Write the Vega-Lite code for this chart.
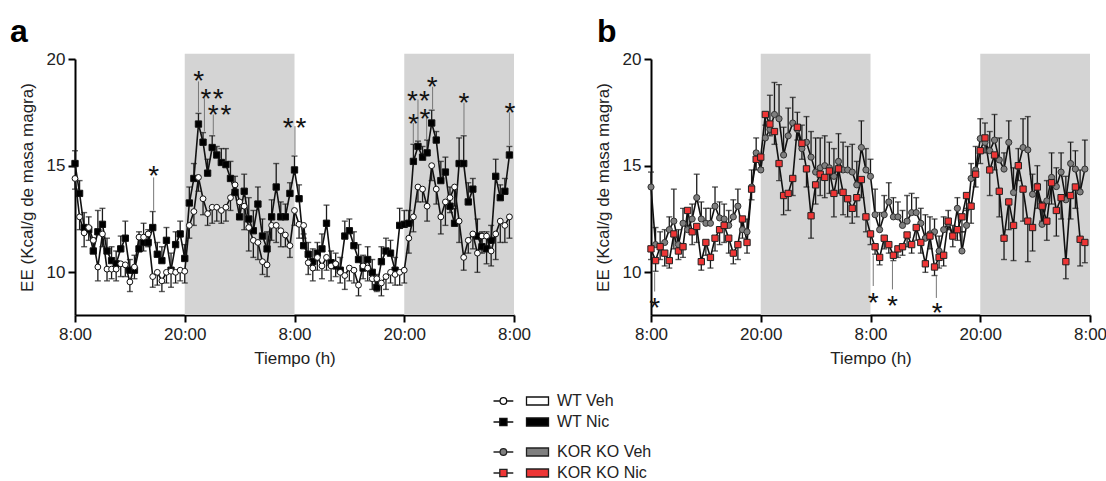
{
"$schema": "https://vega.github.io/schema/vega-lite/v6.json",
"padding": {"left": 10, "top": 16, "right": 0, "bottom": 0},
"background": "white",
"config": {
  "view": {"stroke": null},
  "font": "Liberation Sans",
  "axis": {"grid": false, "labelFlush": false, "domainColor": "#000", "domainWidth": 2, "tickColor": "#000", "tickWidth": 2, "tickSize": 7, "labelFontSize": 17, "titleFontSize": 17, "labelColor": "#222", "titleColor": "#222", "titleFontWeight": "normal", "labelFont": "Liberation Sans", "titleFont": "Liberation Sans"},
  "axisX": {"labelPadding": 4, "titlePadding": 8},
  "axisY": {"labelPadding": 3, "titlePadding": 10},
  "title": {"fontSize": 32, "fontWeight": "bold", "anchor": "start", "frame": "group", "offset": 1, "color": "#000", "font": "Liberation Sans"},
  "legend": {"orient": "none", "title": null, "symbolSize": 400, "labelFontSize": 16, "labelColor": "#222", "labelFont": "Liberation Sans", "rowPadding": 2, "labelOffset": 25}
},
"datasets": {
  "pa": [
{"s":"WT Nic","t":0,"v":15.1,"b":15.7},{"s":"WT Nic","t":0.5,"v":13.7,"b":14.3},{"s":"WT Nic","t":1,"v":12.1,"b":12.8},{"s":"WT Nic","t":1.5,"v":12.0,"b":12.6},{"s":"WT Nic","t":2,"v":11.0,"b":11.6},{"s":"WT Nic","t":2.5,"v":11.9,"b":12.9},{"s":"WT Nic","t":3,"v":12.25,"b":13.0},{"s":"WT Nic","t":3.5,"v":11.0,"b":11.6},{"s":"WT Nic","t":4,"v":10.55,"b":11.2},{"s":"WT Nic","t":4.5,"v":10.4,"b":11.0},{"s":"WT Nic","t":5,"v":11.1,"b":11.7},{"s":"WT Nic","t":5.5,"v":11.6,"b":12.4},{"s":"WT Nic","t":6,"v":10.1,"b":10.6},{"s":"WT Nic","t":6.5,"v":10.1,"b":10.8},{"s":"WT Nic","t":7,"v":11.1,"b":11.9},{"s":"WT Nic","t":7.5,"v":11.4,"b":12.3},{"s":"WT Nic","t":8,"v":11.4,"b":12.0},{"s":"WT Nic","t":8.5,"v":12.1,"b":12.85},{"s":"WT Nic","t":9,"v":10.85,"b":11.4},{"s":"WT Nic","t":9.5,"v":10.55,"b":11.2},{"s":"WT Nic","t":10,"v":11.5,"b":12.1},{"s":"WT Nic","t":10.5,"v":10.1,"b":10.9},{"s":"WT Nic","t":11,"v":11.3,"b":11.9},{"s":"WT Nic","t":11.5,"v":11.8,"b":12.4},{"s":"WT Nic","t":12,"v":10.65,"b":11.3},{"s":"WT Nic","t":12.5,"v":13.25,"b":14.0},{"s":"WT Nic","t":13,"v":14.4,"b":15.1},{"s":"WT Nic","t":13.5,"v":16.95,"b":17.45},{"s":"WT Nic","t":14,"v":16.1,"b":16.55},{"s":"WT Nic","t":14.5,"v":14.65,"b":15.3},{"s":"WT Nic","t":15,"v":15.85,"b":16.4},{"s":"WT Nic","t":15.5,"v":15.5,"b":15.9},{"s":"WT Nic","t":16,"v":15.15,"b":15.8},{"s":"WT Nic","t":16.5,"v":15.05,"b":15.8},{"s":"WT Nic","t":17,"v":14.4,"b":15.2},{"s":"WT Nic","t":17.5,"v":13.75,"b":14.5},{"s":"WT Nic","t":18,"v":12.6,"b":13.3},{"s":"WT Nic","t":18.5,"v":13.8,"b":14.6},{"s":"WT Nic","t":19,"v":12.5,"b":13.5},{"s":"WT Nic","t":19.5,"v":11.95,"b":12.9},{"s":"WT Nic","t":20,"v":13.2,"b":14.0},{"s":"WT Nic","t":20.5,"v":11.7,"b":12.5},{"s":"WT Nic","t":21,"v":11.1,"b":11.9},{"s":"WT Nic","t":21.5,"v":12.6,"b":13.4},{"s":"WT Nic","t":22,"v":14.0,"b":15.1},{"s":"WT Nic","t":22.5,"v":12.6,"b":13.3},{"s":"WT Nic","t":23,"v":12.6,"b":13.2},{"s":"WT Nic","t":23.5,"v":13.7,"b":14.2},{"s":"WT Nic","t":24,"v":14.8,"b":15.45},{"s":"WT Nic","t":24.5,"v":13.45,"b":14.1},{"s":"WT Nic","t":25,"v":11.25,"b":11.8},{"s":"WT Nic","t":25.5,"v":10.85,"b":11.4},{"s":"WT Nic","t":26,"v":10.5,"b":11.1},{"s":"WT Nic","t":26.5,"v":10.9,"b":11.4},{"s":"WT Nic","t":27,"v":11.1,"b":11.8},{"s":"WT Nic","t":27.5,"v":12.3,"b":13.15},{"s":"WT Nic","t":28,"v":10.45,"b":11.0},{"s":"WT Nic","t":28.5,"v":10.3,"b":10.9},{"s":"WT Nic","t":29,"v":10.1,"b":10.7},{"s":"WT Nic","t":29.5,"v":11.7,"b":12.4},{"s":"WT Nic","t":30,"v":11.95,"b":12.5},{"s":"WT Nic","t":30.5,"v":11.25,"b":11.9},{"s":"WT Nic","t":31,"v":10.6,"b":11.3},{"s":"WT Nic","t":31.5,"v":10.2,"b":10.8},{"s":"WT Nic","t":32,"v":10.6,"b":11.2},{"s":"WT Nic","t":32.5,"v":10.0,"b":10.6},{"s":"WT Nic","t":33,"v":9.3,"b":9.9},{"s":"WT Nic","t":33.5,"v":10.5,"b":11.2},{"s":"WT Nic","t":34,"v":11.0,"b":11.6},{"s":"WT Nic","t":34.5,"v":10.9,"b":11.5},{"s":"WT Nic","t":35,"v":10.1,"b":10.7},{"s":"WT Nic","t":35.5,"v":12.2,"b":13.0},{"s":"WT Nic","t":36,"v":12.25,"b":12.9},{"s":"WT Nic","t":36.5,"v":12.3,"b":12.9},{"s":"WT Nic","t":37,"v":15.2,"b":16.0},{"s":"WT Nic","t":37.5,"v":15.9,"b":16.15},{"s":"WT Nic","t":38,"v":15.4,"b":15.9},{"s":"WT Nic","t":38.5,"v":15.6,"b":16.2},{"s":"WT Nic","t":39,"v":17.0,"b":17.6},{"s":"WT Nic","t":39.5,"v":16.2,"b":16.6},{"s":"WT Nic","t":40,"v":14.3,"b":15.2},{"s":"WT Nic","t":40.5,"v":14.7,"b":15.4},{"s":"WT Nic","t":41,"v":13.1,"b":14.0},{"s":"WT Nic","t":41.5,"v":12.3,"b":13.0},{"s":"WT Nic","t":42,"v":15.1,"b":16.3},{"s":"WT Nic","t":42.5,"v":15.1,"b":16.4},{"s":"WT Nic","t":43,"v":13.3,"b":14.2},{"s":"WT Nic","t":43.5,"v":13.9,"b":14.4},{"s":"WT Nic","t":44,"v":11.7,"b":12.5},{"s":"WT Nic","t":44.5,"v":11.2,"b":11.9},{"s":"WT Nic","t":45,"v":11.1,"b":11.9},{"s":"WT Nic","t":45.5,"v":11.5,"b":12.2},{"s":"WT Nic","t":46,"v":14.5,"b":15.3},{"s":"WT Nic","t":46.5,"v":13.5,"b":14.1},{"s":"WT Nic","t":47,"v":13.8,"b":14.4},{"s":"WT Nic","t":47.5,"v":15.5,"b":15.9},
{"s":"WT Veh","t":0,"v":14.4,"b":13.9},{"s":"WT Veh","t":0.5,"v":12.6,"b":12.0},{"s":"WT Veh","t":1,"v":11.85,"b":11.2},{"s":"WT Veh","t":1.5,"v":12.1,"b":11.5},{"s":"WT Veh","t":2,"v":11.5,"b":10.9},{"s":"WT Veh","t":2.5,"v":10.25,"b":9.6},{"s":"WT Veh","t":3,"v":11.8,"b":11.2},{"s":"WT Veh","t":3.5,"v":10.15,"b":9.6},{"s":"WT Veh","t":4,"v":10.15,"b":9.7},{"s":"WT Veh","t":4.5,"v":10.15,"b":9.6},{"s":"WT Veh","t":5,"v":10.4,"b":9.8},{"s":"WT Veh","t":5.5,"v":10.35,"b":9.8},{"s":"WT Veh","t":6,"v":9.55,"b":9.1},{"s":"WT Veh","t":6.5,"v":10.25,"b":9.7},{"s":"WT Veh","t":7,"v":11.65,"b":11.1},{"s":"WT Veh","t":7.5,"v":11.65,"b":11.0},{"s":"WT Veh","t":8,"v":11.8,"b":11.2},{"s":"WT Veh","t":8.5,"v":9.8,"b":9.3},{"s":"WT Veh","t":9,"v":10.0,"b":9.4},{"s":"WT Veh","t":9.5,"v":9.6,"b":9.1},{"s":"WT Veh","t":10,"v":10.0,"b":9.5},{"s":"WT Veh","t":10.5,"v":10.05,"b":9.3},{"s":"WT Veh","t":11,"v":10.0,"b":9.5},{"s":"WT Veh","t":11.5,"v":10.1,"b":9.6},{"s":"WT Veh","t":12,"v":10.05,"b":9.5},{"s":"WT Veh","t":12.5,"v":12.2,"b":11.6},{"s":"WT Veh","t":13,"v":12.85,"b":12.2},{"s":"WT Veh","t":13.5,"v":14.45,"b":13.8},{"s":"WT Veh","t":14,"v":13.45,"b":12.7},{"s":"WT Veh","t":14.5,"v":12.75,"b":12.2},{"s":"WT Veh","t":15,"v":13.05,"b":12.3},{"s":"WT Veh","t":15.5,"v":13.05,"b":12.4},{"s":"WT Veh","t":16,"v":12.9,"b":12.3},{"s":"WT Veh","t":16.5,"v":13.05,"b":12.4},{"s":"WT Veh","t":17,"v":13.5,"b":12.9},{"s":"WT Veh","t":17.5,"v":14.1,"b":13.6},{"s":"WT Veh","t":18,"v":13.3,"b":12.6},{"s":"WT Veh","t":18.5,"v":13.1,"b":12.0},{"s":"WT Veh","t":19,"v":12.1,"b":11.0},{"s":"WT Veh","t":19.5,"v":11.5,"b":10.7},{"s":"WT Veh","t":20,"v":11.4,"b":10.6},{"s":"WT Veh","t":20.5,"v":10.5,"b":9.9},{"s":"WT Veh","t":21,"v":10.35,"b":9.8},{"s":"WT Veh","t":21.5,"v":12.2,"b":11.5},{"s":"WT Veh","t":22,"v":12.2,"b":11.4},{"s":"WT Veh","t":22.5,"v":11.95,"b":11.2},{"s":"WT Veh","t":23,"v":11.75,"b":11.2},{"s":"WT Veh","t":23.5,"v":11.25,"b":10.7},{"s":"WT Veh","t":24,"v":12.9,"b":12.2},{"s":"WT Veh","t":24.5,"v":12.25,"b":11.6},{"s":"WT Veh","t":25,"v":12.2,"b":11.6},{"s":"WT Veh","t":25.5,"v":10.45,"b":9.9},{"s":"WT Veh","t":26,"v":10.2,"b":9.6},{"s":"WT Veh","t":26.5,"v":10.7,"b":10.1},{"s":"WT Veh","t":27,"v":10.3,"b":9.7},{"s":"WT Veh","t":27.5,"v":10.7,"b":10.1},{"s":"WT Veh","t":28,"v":10.3,"b":9.6},{"s":"WT Veh","t":28.5,"v":10.4,"b":9.8},{"s":"WT Veh","t":29,"v":10.0,"b":9.5},{"s":"WT Veh","t":29.5,"v":9.85,"b":9.2},{"s":"WT Veh","t":30,"v":10.2,"b":9.6},{"s":"WT Veh","t":30.5,"v":10.1,"b":9.5},{"s":"WT Veh","t":31,"v":9.4,"b":8.9},{"s":"WT Veh","t":31.5,"v":10.3,"b":9.7},{"s":"WT Veh","t":32,"v":10.2,"b":9.6},{"s":"WT Veh","t":32.5,"v":9.7,"b":9.2},{"s":"WT Veh","t":33,"v":9.7,"b":9.1},{"s":"WT Veh","t":33.5,"v":9.5,"b":8.9},{"s":"WT Veh","t":34,"v":9.8,"b":9.2},{"s":"WT Veh","t":34.5,"v":10.0,"b":9.5},{"s":"WT Veh","t":35,"v":9.9,"b":9.4},{"s":"WT Veh","t":35.5,"v":10.0,"b":9.4},{"s":"WT Veh","t":36,"v":10.1,"b":9.5},{"s":"WT Veh","t":36.5,"v":11.6,"b":10.9},{"s":"WT Veh","t":37,"v":12.6,"b":11.9},{"s":"WT Veh","t":37.5,"v":14.0,"b":13.3},{"s":"WT Veh","t":38,"v":13.9,"b":13.3},{"s":"WT Veh","t":38.5,"v":13.1,"b":12.4},{"s":"WT Veh","t":39,"v":15.0,"b":14.3},{"s":"WT Veh","t":39.5,"v":13.9,"b":13.2},{"s":"WT Veh","t":40,"v":12.6,"b":11.8},{"s":"WT Veh","t":40.5,"v":13.3,"b":12.2},{"s":"WT Veh","t":41,"v":13.5,"b":12.8},{"s":"WT Veh","t":41.5,"v":14.0,"b":13.1},{"s":"WT Veh","t":42,"v":12.4,"b":11.4},{"s":"WT Veh","t":42.5,"v":10.7,"b":10.1},{"s":"WT Veh","t":43,"v":11.5,"b":10.9},{"s":"WT Veh","t":43.5,"v":11.8,"b":11.1},{"s":"WT Veh","t":44,"v":10.9,"b":10.0},{"s":"WT Veh","t":44.5,"v":11.7,"b":10.9},{"s":"WT Veh","t":45,"v":11.7,"b":10.4},{"s":"WT Veh","t":45.5,"v":11.0,"b":10.3},{"s":"WT Veh","t":46,"v":11.8,"b":10.6},{"s":"WT Veh","t":46.5,"v":12.4,"b":11.4},{"s":"WT Veh","t":47,"v":12.2,"b":11.4},{"s":"WT Veh","t":47.5,"v":12.6,"b":11.6}
  ],
  "pb": [
{"s":"KOR KO Nic","t":0,"v":11.1,"b":10.6},{"s":"KOR KO Nic","t":0.5,"v":10.55,"b":10.05},{"s":"KOR KO Nic","t":1,"v":11.2,"b":10.6},{"s":"KOR KO Nic","t":1.5,"v":10.9,"b":10.3},{"s":"KOR KO Nic","t":2,"v":10.55,"b":10.2},{"s":"KOR KO Nic","t":2.5,"v":11.8,"b":11.1},{"s":"KOR KO Nic","t":3,"v":11.0,"b":10.6},{"s":"KOR KO Nic","t":3.5,"v":11.2,"b":10.7},{"s":"KOR KO Nic","t":4,"v":12.9,"b":12.2},{"s":"KOR KO Nic","t":4.5,"v":11.9,"b":11.3},{"s":"KOR KO Nic","t":5,"v":12.15,"b":11.4},{"s":"KOR KO Nic","t":5.5,"v":10.5,"b":10.1},{"s":"KOR KO Nic","t":6,"v":11.4,"b":10.8},{"s":"KOR KO Nic","t":6.5,"v":10.7,"b":10.2},{"s":"KOR KO Nic","t":7,"v":11.6,"b":11.0},{"s":"KOR KO Nic","t":7.5,"v":12.0,"b":11.3},{"s":"KOR KO Nic","t":8,"v":12.2,"b":11.4},{"s":"KOR KO Nic","t":8.5,"v":11.6,"b":10.9},{"s":"KOR KO Nic","t":9,"v":10.9,"b":10.4},{"s":"KOR KO Nic","t":9.5,"v":11.3,"b":10.6},{"s":"KOR KO Nic","t":10,"v":12.5,"b":11.6},{"s":"KOR KO Nic","t":10.5,"v":11.4,"b":10.9},{"s":"KOR KO Nic","t":11,"v":13.9,"b":13.4},{"s":"KOR KO Nic","t":11.5,"v":15.3,"b":14.8},{"s":"KOR KO Nic","t":12,"v":15.4,"b":14.9},{"s":"KOR KO Nic","t":12.5,"v":17.4,"b":16.9},{"s":"KOR KO Nic","t":13,"v":16.95,"b":16.4},{"s":"KOR KO Nic","t":13.5,"v":16.6,"b":16.0},{"s":"KOR KO Nic","t":14,"v":15.1,"b":14.3},{"s":"KOR KO Nic","t":14.5,"v":13.6,"b":12.7},{"s":"KOR KO Nic","t":15,"v":13.7,"b":12.9},{"s":"KOR KO Nic","t":15.5,"v":14.4,"b":13.6},{"s":"KOR KO Nic","t":16,"v":16.8,"b":16.2},{"s":"KOR KO Nic","t":16.5,"v":16.05,"b":15.3},{"s":"KOR KO Nic","t":17,"v":14.85,"b":14.0},{"s":"KOR KO Nic","t":17.5,"v":12.65,"b":11.6},{"s":"KOR KO Nic","t":18,"v":14.1,"b":13.2},{"s":"KOR KO Nic","t":18.5,"v":14.6,"b":13.6},{"s":"KOR KO Nic","t":19,"v":14.45,"b":13.5},{"s":"KOR KO Nic","t":19.5,"v":14.75,"b":13.7},{"s":"KOR KO Nic","t":20,"v":13.7,"b":12.6},{"s":"KOR KO Nic","t":20.5,"v":14.85,"b":13.7},{"s":"KOR KO Nic","t":21,"v":13.75,"b":12.7},{"s":"KOR KO Nic","t":21.5,"v":13.45,"b":12.6},{"s":"KOR KO Nic","t":22,"v":13.0,"b":12.3},{"s":"KOR KO Nic","t":22.5,"v":13.5,"b":12.6},{"s":"KOR KO Nic","t":23,"v":14.35,"b":13.5},{"s":"KOR KO Nic","t":23.5,"v":12.6,"b":11.9},{"s":"KOR KO Nic","t":24,"v":11.8,"b":11.3},{"s":"KOR KO Nic","t":24.5,"v":11.2,"b":10.85},{"s":"KOR KO Nic","t":25,"v":10.7,"b":10.35},{"s":"KOR KO Nic","t":25.5,"v":11.6,"b":11.1},{"s":"KOR KO Nic","t":26,"v":11.3,"b":10.9},{"s":"KOR KO Nic","t":26.5,"v":10.8,"b":10.55},{"s":"KOR KO Nic","t":27,"v":11.1,"b":10.7},{"s":"KOR KO Nic","t":27.5,"v":11.2,"b":10.8},{"s":"KOR KO Nic","t":28,"v":11.75,"b":11.2},{"s":"KOR KO Nic","t":28.5,"v":11.3,"b":10.9},{"s":"KOR KO Nic","t":29,"v":12.1,"b":11.5},{"s":"KOR KO Nic","t":29.5,"v":11.4,"b":10.9},{"s":"KOR KO Nic","t":30,"v":10.4,"b":10.0},{"s":"KOR KO Nic","t":30.5,"v":11.7,"b":11.1},{"s":"KOR KO Nic","t":31,"v":10.25,"b":9.85},{"s":"KOR KO Nic","t":31.5,"v":10.7,"b":10.2},{"s":"KOR KO Nic","t":32,"v":10.8,"b":10.3},{"s":"KOR KO Nic","t":32.5,"v":12.4,"b":12.0},{"s":"KOR KO Nic","t":33,"v":11.7,"b":11.2},{"s":"KOR KO Nic","t":33.5,"v":12.0,"b":11.5},{"s":"KOR KO Nic","t":34,"v":12.6,"b":11.9},{"s":"KOR KO Nic","t":34.5,"v":13.6,"b":12.9},{"s":"KOR KO Nic","t":35,"v":13.1,"b":12.3},{"s":"KOR KO Nic","t":35.5,"v":14.6,"b":14.0},{"s":"KOR KO Nic","t":36,"v":15.7,"b":15.1},{"s":"KOR KO Nic","t":36.52,"v":16.3,"b":15.6},{"s":"KOR KO Nic","t":37.04,"v":14.8,"b":13.6},{"s":"KOR KO Nic","t":37.56,"v":15.5,"b":14.8},{"s":"KOR KO Nic","t":38.08,"v":13.8,"b":12.6},{"s":"KOR KO Nic","t":38.6,"v":11.6,"b":10.6},{"s":"KOR KO Nic","t":39.12,"v":13.3,"b":12.0},{"s":"KOR KO Nic","t":39.64,"v":12.2,"b":10.55},{"s":"KOR KO Nic","t":40.16,"v":15.0,"b":14.3},{"s":"KOR KO Nic","t":40.68,"v":13.9,"b":12.4},{"s":"KOR KO Nic","t":41.2,"v":12.4,"b":10.5},{"s":"KOR KO Nic","t":41.72,"v":12.1,"b":11.0},{"s":"KOR KO Nic","t":42.24,"v":14.0,"b":13.0},{"s":"KOR KO Nic","t":42.76,"v":13.1,"b":12.4},{"s":"KOR KO Nic","t":43.28,"v":12.4,"b":11.5},{"s":"KOR KO Nic","t":43.8,"v":14.2,"b":13.2},{"s":"KOR KO Nic","t":44.32,"v":12.9,"b":11.7},{"s":"KOR KO Nic","t":44.84,"v":13.5,"b":12.5},{"s":"KOR KO Nic","t":45.36,"v":10.5,"b":9.7},{"s":"KOR KO Nic","t":45.88,"v":13.6,"b":12.5},{"s":"KOR KO Nic","t":46.4,"v":14.0,"b":13.0},{"s":"KOR KO Nic","t":46.92,"v":11.55,"b":10.3},{"s":"KOR KO Nic","t":47.44,"v":11.4,"b":10.45},
{"s":"KOR KO Veh","t":0,"v":14.0,"b":14.7},{"s":"KOR KO Veh","t":0.5,"v":11.3,"b":12.1},{"s":"KOR KO Veh","t":1,"v":11.2,"b":11.9},{"s":"KOR KO Veh","t":1.5,"v":11.4,"b":12.0},{"s":"KOR KO Veh","t":2,"v":12.0,"b":12.6},{"s":"KOR KO Veh","t":2.5,"v":12.4,"b":13.9},{"s":"KOR KO Veh","t":3,"v":11.3,"b":12.0},{"s":"KOR KO Veh","t":3.5,"v":12.3,"b":13.0},{"s":"KOR KO Veh","t":4,"v":12.0,"b":12.8},{"s":"KOR KO Veh","t":4.5,"v":12.5,"b":13.2},{"s":"KOR KO Veh","t":5,"v":13.5,"b":14.6},{"s":"KOR KO Veh","t":5.5,"v":12.5,"b":13.3},{"s":"KOR KO Veh","t":6,"v":12.3,"b":13.0},{"s":"KOR KO Veh","t":6.5,"v":12.3,"b":13.0},{"s":"KOR KO Veh","t":7,"v":13.1,"b":14.0},{"s":"KOR KO Veh","t":7.5,"v":12.55,"b":13.3},{"s":"KOR KO Veh","t":8,"v":12.5,"b":13.2},{"s":"KOR KO Veh","t":8.5,"v":12.2,"b":12.9},{"s":"KOR KO Veh","t":9,"v":12.6,"b":13.4},{"s":"KOR KO Veh","t":9.5,"v":13.1,"b":13.9},{"s":"KOR KO Veh","t":10,"v":12.0,"b":12.6},{"s":"KOR KO Veh","t":10.5,"v":11.9,"b":12.5},{"s":"KOR KO Veh","t":11,"v":14.0,"b":14.8},{"s":"KOR KO Veh","t":11.5,"v":15.6,"b":16.3},{"s":"KOR KO Veh","t":12,"v":14.8,"b":15.5},{"s":"KOR KO Veh","t":12.5,"v":16.3,"b":17.4},{"s":"KOR KO Veh","t":13,"v":16.7,"b":18.3},{"s":"KOR KO Veh","t":13.5,"v":17.4,"b":18.9},{"s":"KOR KO Veh","t":14,"v":17.2,"b":18.8},{"s":"KOR KO Veh","t":14.5,"v":15.5,"b":16.8},{"s":"KOR KO Veh","t":15,"v":16.4,"b":17.7},{"s":"KOR KO Veh","t":15.5,"v":17.0,"b":18.2},{"s":"KOR KO Veh","t":16,"v":16.7,"b":17.5},{"s":"KOR KO Veh","t":16.5,"v":15.8,"b":16.9},{"s":"KOR KO Veh","t":17,"v":16.1,"b":17.3},{"s":"KOR KO Veh","t":17.5,"v":15.4,"b":16.6},{"s":"KOR KO Veh","t":18,"v":14.7,"b":16.3},{"s":"KOR KO Veh","t":18.5,"v":14.9,"b":16.3},{"s":"KOR KO Veh","t":19,"v":15.0,"b":16.4},{"s":"KOR KO Veh","t":19.5,"v":14.9,"b":16.1},{"s":"KOR KO Veh","t":20,"v":14.5,"b":15.8},{"s":"KOR KO Veh","t":20.5,"v":15.2,"b":16.5},{"s":"KOR KO Veh","t":21,"v":14.8,"b":16.1},{"s":"KOR KO Veh","t":21.5,"v":14.8,"b":15.9},{"s":"KOR KO Veh","t":22,"v":14.7,"b":16.0},{"s":"KOR KO Veh","t":22.5,"v":14.1,"b":15.2},{"s":"KOR KO Veh","t":23,"v":15.85,"b":17.1},{"s":"KOR KO Veh","t":23.5,"v":14.8,"b":15.8},{"s":"KOR KO Veh","t":24,"v":14.5,"b":15.3},{"s":"KOR KO Veh","t":24.5,"v":12.7,"b":13.9},{"s":"KOR KO Veh","t":25,"v":12.0,"b":12.8},{"s":"KOR KO Veh","t":25.5,"v":12.7,"b":13.6},{"s":"KOR KO Veh","t":26,"v":13.3,"b":14.2},{"s":"KOR KO Veh","t":26.5,"v":12.6,"b":13.5},{"s":"KOR KO Veh","t":27,"v":12.6,"b":13.3},{"s":"KOR KO Veh","t":27.5,"v":12.2,"b":12.9},{"s":"KOR KO Veh","t":28,"v":12.4,"b":13.6},{"s":"KOR KO Veh","t":28.5,"v":12.8,"b":13.7},{"s":"KOR KO Veh","t":29,"v":12.8,"b":13.5},{"s":"KOR KO Veh","t":29.5,"v":12.3,"b":13.0},{"s":"KOR KO Veh","t":30,"v":11.6,"b":12.7},{"s":"KOR KO Veh","t":30.5,"v":11.8,"b":12.6},{"s":"KOR KO Veh","t":31,"v":11.9,"b":12.5},{"s":"KOR KO Veh","t":31.5,"v":11.0,"b":11.7},{"s":"KOR KO Veh","t":32,"v":12.0,"b":12.6},{"s":"KOR KO Veh","t":32.5,"v":12.3,"b":12.9},{"s":"KOR KO Veh","t":33,"v":11.7,"b":12.2},{"s":"KOR KO Veh","t":33.5,"v":13.0,"b":13.5},{"s":"KOR KO Veh","t":34,"v":11.0,"b":11.9},{"s":"KOR KO Veh","t":34.5,"v":12.2,"b":13.0},{"s":"KOR KO Veh","t":35,"v":14.4,"b":15.1},{"s":"KOR KO Veh","t":35.5,"v":14.8,"b":15.9},{"s":"KOR KO Veh","t":36,"v":16.27,"b":17.2},{"s":"KOR KO Veh","t":36.52,"v":16.09,"b":17.0},{"s":"KOR KO Veh","t":37.04,"v":15.7,"b":16.6},{"s":"KOR KO Veh","t":37.56,"v":16.2,"b":17.4},{"s":"KOR KO Veh","t":38.08,"v":15.27,"b":16.3},{"s":"KOR KO Veh","t":38.6,"v":14.84,"b":15.6},{"s":"KOR KO Veh","t":39.12,"v":16.09,"b":17.1},{"s":"KOR KO Veh","t":39.64,"v":13.74,"b":14.9},{"s":"KOR KO Veh","t":40.16,"v":14.96,"b":15.8},{"s":"KOR KO Veh","t":40.68,"v":15.85,"b":17.2},{"s":"KOR KO Veh","t":41.2,"v":15.74,"b":17.3},{"s":"KOR KO Veh","t":41.72,"v":13.66,"b":14.6},{"s":"KOR KO Veh","t":42.24,"v":14.05,"b":15.0},{"s":"KOR KO Veh","t":42.76,"v":12.25,"b":13.3},{"s":"KOR KO Veh","t":43.28,"v":13.35,"b":14.3},{"s":"KOR KO Veh","t":43.8,"v":14.45,"b":15.6},{"s":"KOR KO Veh","t":44.32,"v":14.02,"b":14.9},{"s":"KOR KO Veh","t":44.84,"v":14.7,"b":15.6},{"s":"KOR KO Veh","t":45.36,"v":13.4,"b":14.5},{"s":"KOR KO Veh","t":45.88,"v":15.1,"b":16.1},{"s":"KOR KO Veh","t":46.4,"v":14.84,"b":15.7},{"s":"KOR KO Veh","t":46.92,"v":13.77,"b":14.8},{"s":"KOR KO Veh","t":47.44,"v":14.84,"b":16.2}
  ],
  "night": [{"t":12,"t2":24,"lo":8,"hi":20.25},{"t":36,"t2":48,"lo":8,"hi":20.25}],
  "starsA": [{"t":8.6,"y":14.84},{"t":13.52,"y":19.3},{"t":14.32,"y":18.44},{"t":15.67,"y":18.44},{"t":15.12,"y":17.7},{"t":16.5,"y":17.7},{"t":23.3,"y":17.1},{"t":24.7,"y":17.1},{"t":36.9,"y":18.36},{"t":38.2,"y":18.36},{"t":37.0,"y":17.26},{"t":38.27,"y":17.5},{"t":39.07,"y":19.03},{"t":42.53,"y":18.25},{"t":47.55,"y":17.78}],
  "linesA": [{"t":8.6,"y1":12.9,"y2":14.45},{"t":13.5,"y1":17.5,"y2":18.95},{"t":14.15,"y1":16.6,"y2":18.15},{"t":15.12,"y1":16.45,"y2":17.4},{"t":24.05,"y1":15.5,"y2":16.85},{"t":37.5,"y1":16.15,"y2":18.1},{"t":36.99,"y1":16.05,"y2":17.0},{"t":38.45,"y1":16.25,"y2":17.25},{"t":39.1,"y1":17.65,"y2":18.7},{"t":42.53,"y1":16.45,"y2":17.95},{"t":47.5,"y1":15.95,"y2":17.5}],
  "starsB": [{"t":0.4,"y":8.65},{"t":24.3,"y":8.9},{"t":26.4,"y":8.73},{"t":31.3,"y":8.42}],
  "linesB": [{"t":0.4,"y1":9.1,"y2":10.0},{"t":24.3,"y1":9.36,"y2":10.8},{"t":26.4,"y1":9.2,"y2":10.55},{"t":31.2,"y1":8.8,"y2":9.83}]
},
"hconcat": [
{
  "title": {"text": "a", "dx": -65},
  "width": 439, "height": 256,
  "layer": [
    {"data": {"name": "night"}, "mark": {"type": "rect", "color": "#d4d4d4"},
     "encoding": {
       "x": {"field": "t", "type": "quantitative", "scale": {"domain": [0, 48], "nice": false, "zero": false}, "axis": {"values": [0, 12, 24, 36, 48], "labelExpr": "datum.value % 24 == 0 ? '8:00' : '20:00'", "title": "Tiempo (h)"}},
       "x2": {"field": "t2"},
       "y": {"field": "lo", "type": "quantitative", "scale": {"domain": [8, 20], "nice": false, "zero": false}, "axis": {"values": [10, 15, 20], "title": "EE (Kcal/g de masa magra)"}},
       "y2": {"field": "hi"}}},
    {"data": {"name": "pa"}, "mark": {"type": "rule", "color": "#1a1a1a", "strokeWidth": 1.3},
     "encoding": {"x": {"field": "t", "type": "quantitative"}, "y": {"field": "v", "type": "quantitative"}, "y2": {"field": "b"}}},
    {"data": {"name": "pa"}, "mark": {"type": "tick", "orient": "horizontal", "color": "#1a1a1a", "size": 6, "thickness": 1.4},
     "encoding": {"x": {"field": "t", "type": "quantitative"}, "y": {"field": "b", "type": "quantitative"}}},
    {"data": {"name": "pa"}, "mark": {"type": "line", "color": "#111", "strokeWidth": 1.6},
     "encoding": {"x": {"field": "t", "type": "quantitative"}, "y": {"field": "v", "type": "quantitative"}, "detail": {"field": "s"}}},
    {"data": {"name": "pa"}, "transform": [{"filter": "datum.s == 'WT Nic'"}],
     "mark": {"type": "point", "shape": "square", "filled": true, "size": 40, "stroke": "#111", "strokeWidth": 1, "opacity": 1},
     "encoding": {"x": {"field": "t", "type": "quantitative"}, "y": {"field": "v", "type": "quantitative"},
       "fill": {"field": "s", "type": "nominal", "scale": {"domain": ["WT Veh", "WT Nic"], "range": ["#ffffff", "#000000"]},
         "legend": {"legendX": 435, "legendY": 331, "symbolStrokeColor": "#1a1a1a", "symbolStrokeWidth": 1.3, "symbolOpacity": 1}}}},
    {"data": {"name": "pa"}, "transform": [{"filter": "datum.s == 'WT Veh'"}],
     "mark": {"type": "point", "shape": "circle", "filled": true, "size": 34, "stroke": "#111", "strokeWidth": 1, "opacity": 1},
     "encoding": {"x": {"field": "t", "type": "quantitative"}, "y": {"field": "v", "type": "quantitative"},
       "fill": {"field": "s", "type": "nominal"}}},
    {"data": {"name": "pa"}, "transform": [{"filter": "false"}],
     "mark": {"type": "point", "filled": true},
     "encoding": {
       "fill": {"field": "s", "type": "nominal"},
       "shape": {"field": "s", "type": "nominal", "scale": {"domain": ["WT Veh", "WT Nic"], "range": ["M-2.75,0H-2.09M-1.43,0H-0.77M-1.43,0A0.33,0.33,0,1,1,-2.09,0A0.33,0.33,0,1,1,-1.43,0ZM0.55,-0.4H2.75V0.4H0.55Z", "M-2.75,0H-2.12M-1.4,0H-0.77M-2.12,-0.36H-1.4V0.36H-2.12ZM0.55,-0.4H2.75V0.4H0.55Z"]}}}},
    {"data": {"name": "linesA"}, "mark": {"type": "rule", "color": "#777", "strokeWidth": 1},
     "encoding": {"x": {"field": "t", "type": "quantitative"}, "y": {"field": "y1", "type": "quantitative"}, "y2": {"field": "y2"}}},
    {"data": {"name": "starsA"}, "mark": {"type": "text", "text": "*", "fontSize": 28, "baseline": "alphabetic", "dy": 16, "font": "Liberation Sans", "color": "#111"},
     "encoding": {"x": {"field": "t", "type": "quantitative"}, "y": {"field": "y", "type": "quantitative"}}}
  ]
},
{
  "title": {"text": "b", "dx": -54},
  "width": 439, "height": 256,
  "layer": [
    {"data": {"name": "night"}, "mark": {"type": "rect", "color": "#d4d4d4"},
     "encoding": {
       "x": {"field": "t", "type": "quantitative", "scale": {"domain": [0, 48], "nice": false, "zero": false}, "axis": {"values": [0, 12, 24, 36, 48], "labelExpr": "datum.value % 24 == 0 ? '8:00' : '20:00'", "title": "Tiempo (h)"}},
       "x2": {"field": "t2"},
       "y": {"field": "lo", "type": "quantitative", "scale": {"domain": [8, 20], "nice": false, "zero": false}, "axis": {"values": [10, 15, 20], "title": "EE (Kcal/g de masa magra)"}},
       "y2": {"field": "hi"}}},
    {"data": {"name": "pb"}, "mark": {"type": "rule", "color": "#1a1a1a", "strokeWidth": 1.3},
     "encoding": {"x": {"field": "t", "type": "quantitative"}, "y": {"field": "v", "type": "quantitative"}, "y2": {"field": "b"}}},
    {"data": {"name": "pb"}, "mark": {"type": "tick", "orient": "horizontal", "color": "#1a1a1a", "size": 6, "thickness": 1.4},
     "encoding": {"x": {"field": "t", "type": "quantitative"}, "y": {"field": "b", "type": "quantitative"}}},
    {"data": {"name": "pb"}, "mark": {"type": "line", "color": "#111", "strokeWidth": 1.6},
     "encoding": {"x": {"field": "t", "type": "quantitative"}, "y": {"field": "v", "type": "quantitative"}, "detail": {"field": "s"}}},
    {"data": {"name": "pb"}, "transform": [{"filter": "datum.s == 'KOR KO Veh'"}],
     "mark": {"type": "point", "shape": "circle", "filled": true, "size": 38, "stroke": "#333", "strokeWidth": 1, "opacity": 1},
     "encoding": {"x": {"field": "t", "type": "quantitative"}, "y": {"field": "v", "type": "quantitative"},
       "fill": {"field": "s", "type": "nominal", "scale": {"domain": ["KOR KO Veh", "KOR KO Nic"], "range": ["#7f7f7f", "#ee3535"]},
         "legend": {"legendX": -141, "legendY": 382, "symbolStrokeColor": "#1a1a1a", "symbolStrokeWidth": 1.3, "symbolOpacity": 1}}}},
    {"data": {"name": "pb"}, "transform": [{"filter": "datum.s == 'KOR KO Nic'"}],
     "mark": {"type": "point", "shape": "square", "filled": true, "size": 40, "stroke": "#222", "strokeWidth": 1, "opacity": 1},
     "encoding": {"x": {"field": "t", "type": "quantitative"}, "y": {"field": "v", "type": "quantitative"},
       "fill": {"field": "s", "type": "nominal"}}},
    {"data": {"name": "pb"}, "transform": [{"filter": "false"}],
     "mark": {"type": "point", "filled": true},
     "encoding": {
       "fill": {"field": "s", "type": "nominal"},
       "shape": {"field": "s", "type": "nominal", "scale": {"domain": ["KOR KO Veh", "KOR KO Nic"], "range": ["M-2.75,0H-2.09M-1.43,0H-0.77M-1.43,0A0.33,0.33,0,1,1,-2.09,0A0.33,0.33,0,1,1,-1.43,0ZM0.55,-0.4H2.75V0.4H0.55Z", "M-2.75,0H-2.12M-1.4,0H-0.77M-2.12,-0.36H-1.4V0.36H-2.12ZM0.55,-0.4H2.75V0.4H0.55Z"]}}}},
    {"data": {"name": "linesB"}, "mark": {"type": "rule", "color": "#777", "strokeWidth": 1},
     "encoding": {"x": {"field": "t", "type": "quantitative"}, "y": {"field": "y1", "type": "quantitative"}, "y2": {"field": "y2"}}},
    {"data": {"name": "starsB"}, "mark": {"type": "text", "text": "*", "fontSize": 28, "baseline": "alphabetic", "dy": 16, "font": "Liberation Sans", "color": "#111"},
     "encoding": {"x": {"field": "t", "type": "quantitative"}, "y": {"field": "y", "type": "quantitative"}}}
  ]
}
],
"spacing": 137,
"bounds": "flush",
"resolve": {"scale": {"fill": "independent", "shape": "independent", "x": "independent", "y": "independent"}, "legend": {"fill": "independent", "shape": "independent"}}
}
